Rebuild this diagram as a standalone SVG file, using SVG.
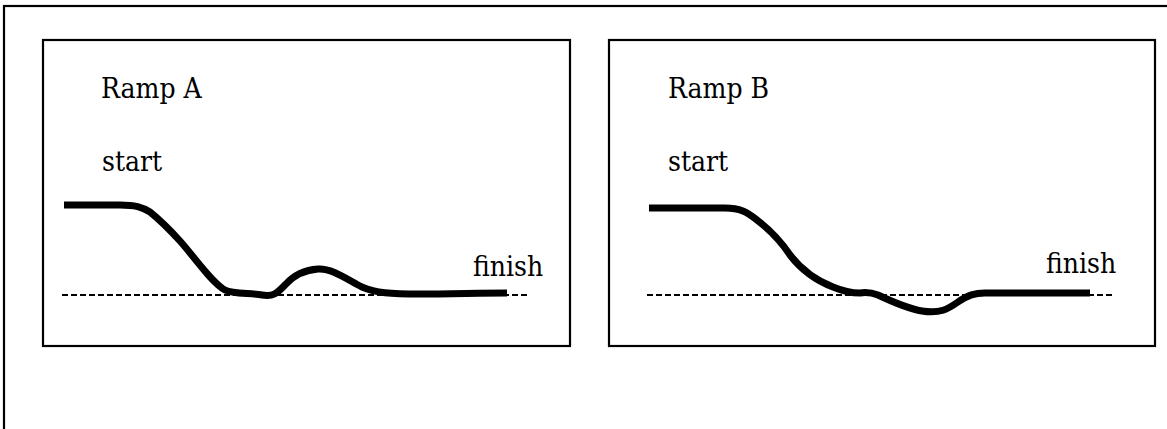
<svg xmlns="http://www.w3.org/2000/svg" width="1167" height="429" viewBox="0 0 1167 429">
<style>
.frame{fill:none;stroke:#000;stroke-width:2.2}
.base{fill:none;stroke:#000;stroke-width:1.8;stroke-dasharray:6 3}
.ramp{fill:none;stroke:#000;stroke-width:7;stroke-linejoin:round;stroke-linecap:butt}
.lbl{font-family:"DejaVu Serif",serif;font-stretch:condensed;font-size:28px;fill:#000}
</style>
<rect width="1167" height="429" fill="#fff"/>
<rect class="frame" x="4" y="6" width="1200" height="450"/>
<g id="rampA">
<rect class="frame" x="43" y="40" width="527" height="306"/>
<text class="lbl" x="101" y="98">Ramp A</text>
<text class="lbl" x="102" y="171">start</text>
<text class="lbl" x="473" y="276">finish</text>
<line class="base" x1="62" y1="295" x2="527" y2="295"/>
<path class="ramp" d="M64,205 L120,205 C135,205 142,207 150,212 C160,220 170,230 180,241 C196,259 212,283 225,290 C232,294 250,293 262,295 C275,297 278,292 286,284 C295,274 305,270 318,269 C332,268 348,280 362,287 C376,293 390,294 420,294 C450,294 480,293 507,293"/>
</g>
<g id="rampB">
<rect class="frame" x="609" y="40" width="546" height="306"/>
<text class="lbl" x="668" y="98">Ramp B</text>
<text class="lbl" x="668" y="171">start</text>
<text class="lbl" x="1046" y="273">finish</text>
<line class="base" x1="647" y1="295" x2="1113" y2="295"/>
<path class="ramp" d="M649,208 L725,208 C740,208 747,212 757,220 C770,230 780,240 790,255 C800,268 815,280 833,287 C845,292 852,293 860,293 C866,292 870,292 878,295 C895,303 910,309 922,311 C940,314 948,309 958,302 C968,295 975,293 985,293 L1090,293"/>
</g>
</svg>
